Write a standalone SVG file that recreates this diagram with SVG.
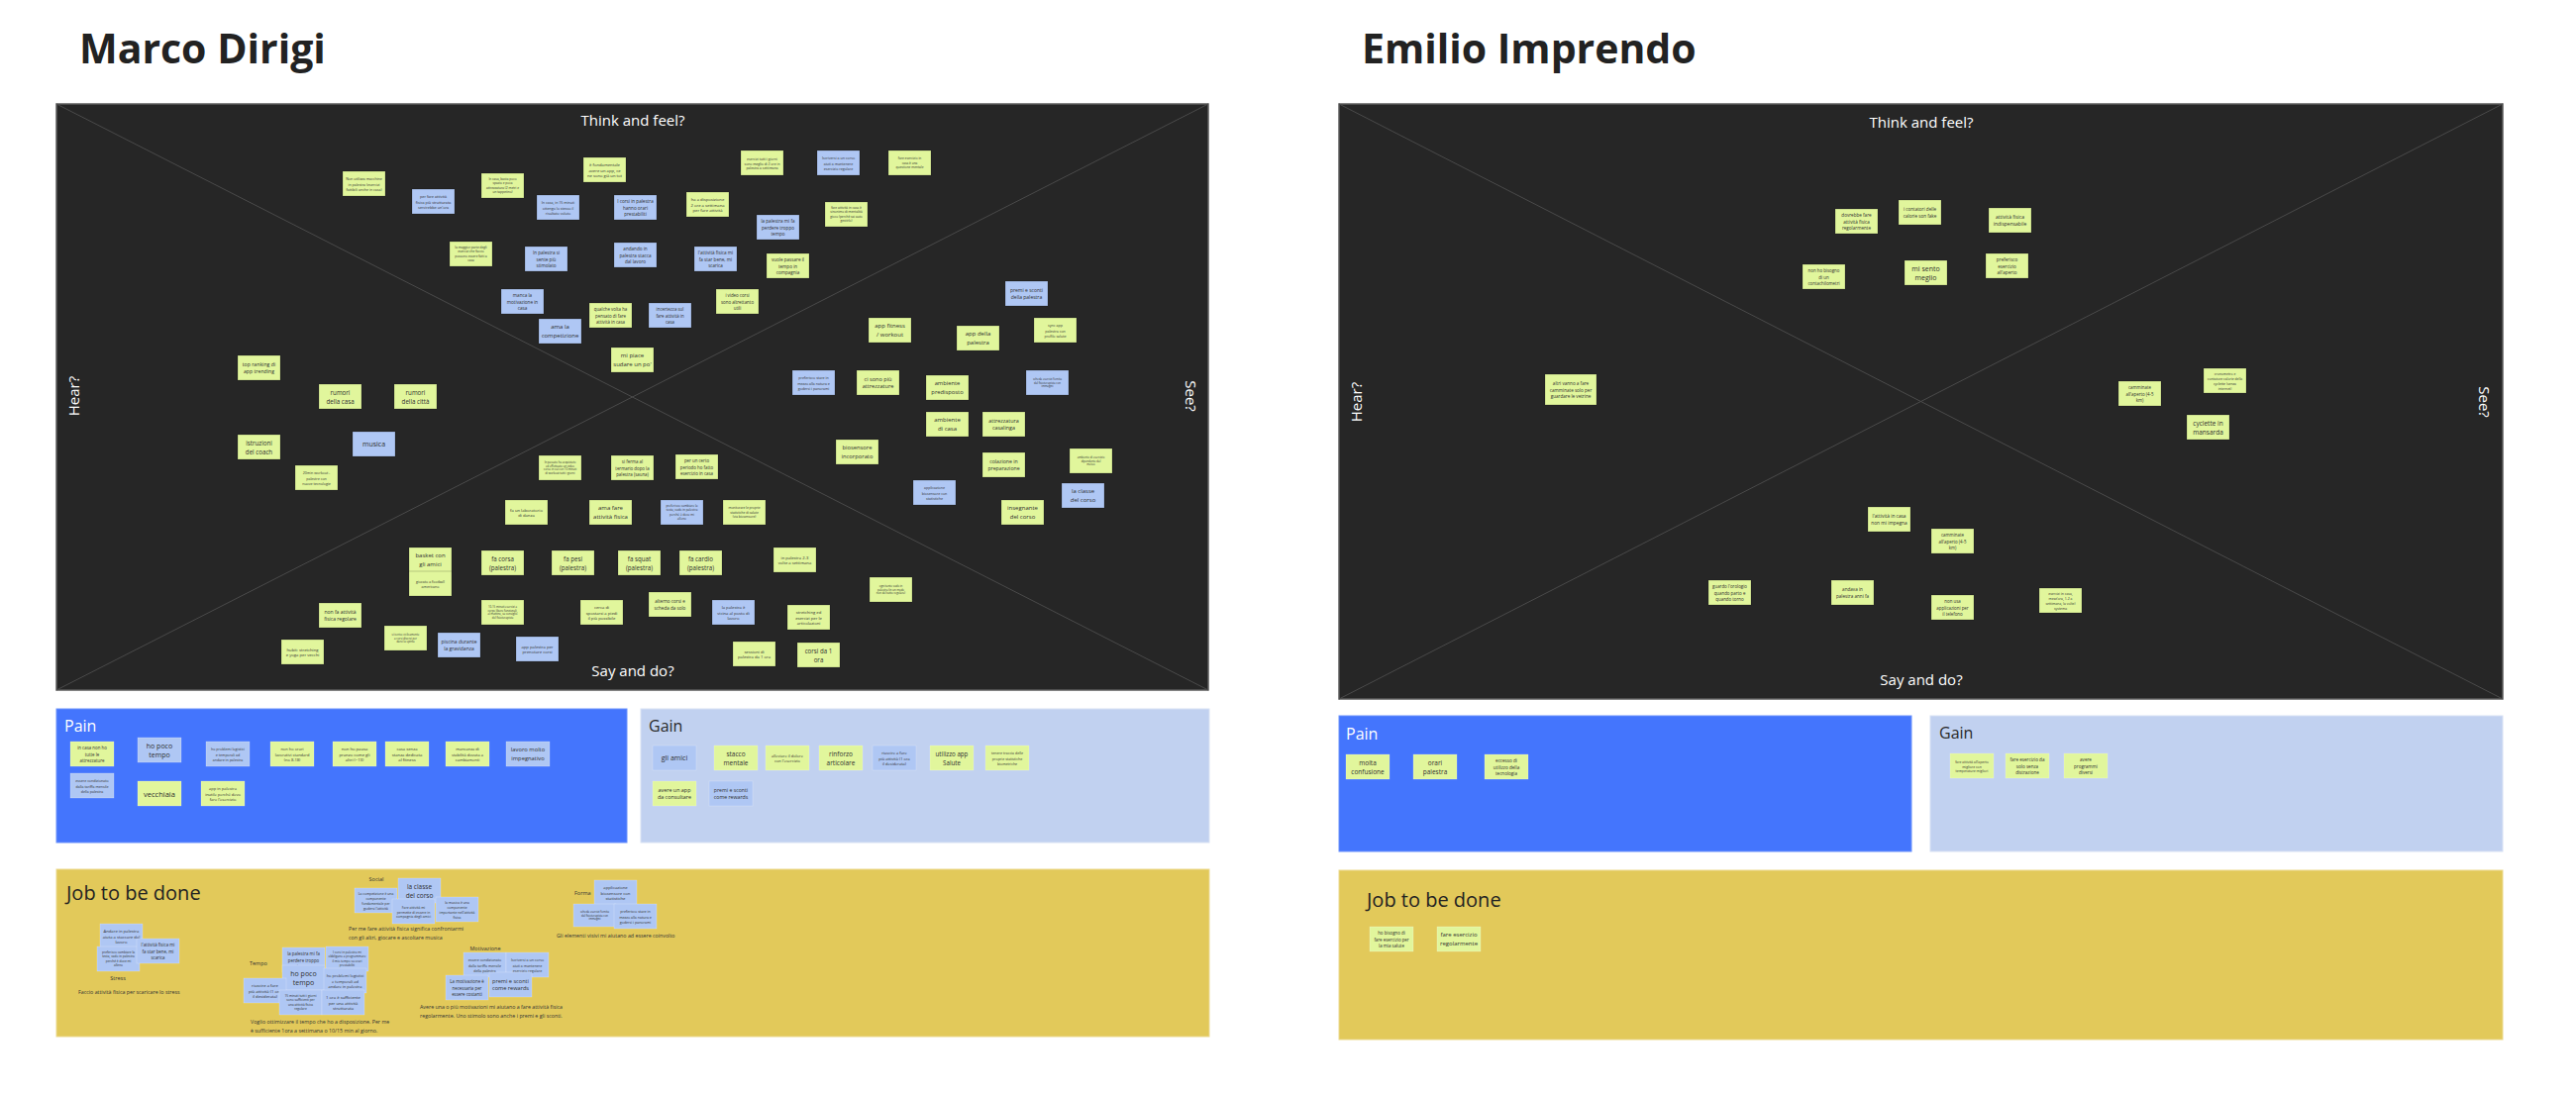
<svg xmlns="http://www.w3.org/2000/svg" width="2601" height="1106" viewBox="0 0 2601 1106">
<style>
text{font-family:"Open Sans","Noto Sans","Liberation Sans",sans-serif}
.st rect{stroke:#000;stroke-opacity:.3;stroke-width:.6}
.lt rect{stroke:#fff;stroke-opacity:.35;stroke-width:.6}
.g{fill:#e1f69c}
.b{fill:#afc7f4}
.st text,.lt text{fill:#2e2e2e;text-anchor:middle;dominant-baseline:central}
.st tspan,.lt tspan{dominant-baseline:central}
.map{fill:#262626;stroke:#5c5c5c;stroke-width:1.5}
.diag{stroke:#4a4a4a;stroke-width:1}
.lbl{fill:#fff;font-size:15px;text-anchor:middle;dominant-baseline:central}
.h1{font-size:41px;font-weight:700;fill:#222}
.sec{font-size:16px}
.job{font-size:20px;fill:#222}
.cap{font-size:5.5px;fill:#333}
.desc{font-size:5.3px;fill:#333}
.f26{font-size:2.6px}.f28{font-size:2.8px}.f31{font-size:3.1px}.f32{font-size:3.2px}.f34{font-size:3.4px}.f36{font-size:3.6px}.f38{font-size:3.8px}
.f40{font-size:4px}.f42{font-size:4.2px}.f44{font-size:4.4px}.f46{font-size:4.6px}.f48{font-size:4.8px}.f50{font-size:5px}.f52{font-size:5.2px}
.f54{font-size:5.4px}.f56{font-size:5.6px}.f58{font-size:5.8px}.f60{font-size:6px}.f62{font-size:6.2px}.f65{font-size:6.5px}.f68{font-size:6.8px}.f70{font-size:7px}.f75{font-size:7.5px}
</style>

<text class="h1" x="80" y="64">Marco Dirigi</text>
<text class="h1" x="1375" y="64">Emilio Imprendo</text>

<!-- LEFT EMPATHY MAP -->
<g id="map-left">
<rect class="map" x="57" y="105" width="1163" height="592"/>
<line class="diag" x1="57" y1="105" x2="1220" y2="697"/>
<line class="diag" x1="57" y1="697" x2="1220" y2="105"/>
<text class="lbl" x="639" y="121">Think and feel?</text>
<text class="lbl" x="639" y="677">Say and do?</text>
<text class="lbl" transform="translate(74,400) rotate(-90)">Hear?</text>
<text class="lbl" transform="translate(1203,400) rotate(90)">See?</text>
</g>

<g id="n1" class="st" transform="translate(346,173)"><rect class="g" width="43" height="25"/><text class="f36" x="21.5" y="12.5"><tspan x="21.5" dy="-1.4em">Non utilizza macchine</tspan><tspan x="21.5" dy="1.4em">in palestra (esercizi</tspan><tspan x="21.5" dy="1.4em">fattibili anche in casa)</tspan></text></g>
<g id="n2" class="st" transform="translate(416,191)"><rect class="b" width="43" height="25"/><text class="f38" x="21.5" y="12.5"><tspan x="21.5" dy="-1.4em">per fare attività</tspan><tspan x="21.5" dy="1.4em">fisica più strutturata</tspan><tspan x="21.5" dy="1.4em">servirebbe un'ora</tspan></text></g>
<g id="n3" class="st" transform="translate(454,244)"><rect class="g" width="43" height="25"/><text class="f32" x="21.5" y="12.5"><tspan x="21.5" dy="-2.1em">la maggior parte degli</tspan><tspan x="21.5" dy="1.4em">esercizi che faccio</tspan><tspan x="21.5" dy="1.4em">possono essere fatti a</tspan><tspan x="21.5" dy="1.4em">casa</tspan></text></g>
<g id="n4" class="st" transform="translate(486,175)"><rect class="g" width="43" height="25"/><text class="f32" x="21.5" y="12.5"><tspan x="21.5" dy="-2.1em">In casa, basta poco</tspan><tspan x="21.5" dy="1.4em">spazio e poca</tspan><tspan x="21.5" dy="1.4em">attrezzatura (2 metri e</tspan><tspan x="21.5" dy="1.4em">un tappetino)</tspan></text></g>
<g id="n5" class="st" transform="translate(589,159)"><rect class="g" width="43" height="25"/><text class="f42" x="21.5" y="12.5"><tspan x="21.5" dy="-1.4em">è fondamentale</tspan><tspan x="21.5" dy="1.4em">avere un app, ce</tspan><tspan x="21.5" dy="1.4em">ne sono già un tot</tspan></text></g>
<g id="n6" class="st" transform="translate(542,197)"><rect class="b" width="43" height="25"/><text class="f36" x="21.5" y="12.5"><tspan x="21.5" dy="-1.4em">In casa, in 15 minuti</tspan><tspan x="21.5" dy="1.4em">ottengo lo stesso il</tspan><tspan x="21.5" dy="1.4em">risultato voluto</tspan></text></g>
<g id="n7" class="st" transform="translate(620,197)"><rect class="b" width="43" height="25"/><text class="f46" x="21.5" y="12.5"><tspan x="21.5" dy="-1.4em">I corsi in palestra</tspan><tspan x="21.5" dy="1.4em">hanno orari</tspan><tspan x="21.5" dy="1.4em">prestabiliti</tspan></text></g>
<g id="n8" class="st" transform="translate(693,194)"><rect class="g" width="43" height="25"/><text class="f42" x="21.5" y="12.5"><tspan x="21.5" dy="-1.4em">ha a disposizione</tspan><tspan x="21.5" dy="1.4em">2 ore a settimana</tspan><tspan x="21.5" dy="1.4em">per fare attività</tspan></text></g>
<g id="n9" class="st" transform="translate(748,152)"><rect class="g" width="43" height="25"/><text class="f34" x="21.5" y="12.5"><tspan x="21.5" dy="-1.4em">esercizi tutti i giorni</tspan><tspan x="21.5" dy="1.4em">sono meglio di 2 ore in</tspan><tspan x="21.5" dy="1.4em">palestra a settimana</tspan></text></g>
<g id="n10" class="st" transform="translate(825,152)"><rect class="b" width="43" height="25"/><text class="f36" x="21.5" y="12.5"><tspan x="21.5" dy="-1.4em">Iscriversi a un corso</tspan><tspan x="21.5" dy="1.4em">aiuti a mantenere</tspan><tspan x="21.5" dy="1.4em">esercizio regolare</tspan></text></g>
<g id="n11" class="st" transform="translate(764,217)"><rect class="b" width="43" height="25"/><text class="f46" x="21.5" y="12.5"><tspan x="21.5" dy="-1.4em">la palestra mi fa</tspan><tspan x="21.5" dy="1.4em">perdere troppo</tspan><tspan x="21.5" dy="1.4em">tempo</tspan></text></g>
<g id="n12" class="st" transform="translate(833,204)"><rect class="g" width="43" height="25"/><text class="f32" x="21.5" y="12.5"><tspan x="21.5" dy="-2.1em">fare attività in casa è</tspan><tspan x="21.5" dy="1.4em">sinonimo di mentalità</tspan><tspan x="21.5" dy="1.4em">gioco (perché sai auto</tspan><tspan x="21.5" dy="1.4em">gestirlo)</tspan></text></g>
<g id="n13" class="st" transform="translate(530,249)"><rect class="b" width="43" height="25"/><text class="f46" x="21.5" y="12.5"><tspan x="21.5" dy="-1.4em">In palestra si</tspan><tspan x="21.5" dy="1.4em">sente più</tspan><tspan x="21.5" dy="1.4em">stimolato</tspan></text></g>
<g id="n14" class="st" transform="translate(620,245)"><rect class="b" width="43" height="25"/><text class="f46" x="21.5" y="12.5"><tspan x="21.5" dy="-1.4em">andando in</tspan><tspan x="21.5" dy="1.4em">palestra stacca</tspan><tspan x="21.5" dy="1.4em">dal lavoro</tspan></text></g>
<g id="n15" class="st" transform="translate(701,249)"><rect class="b" width="43" height="25"/><text class="f46" x="21.5" y="12.5"><tspan x="21.5" dy="-1.4em">l'attività fisica mi</tspan><tspan x="21.5" dy="1.4em">fa star bene, mi</tspan><tspan x="21.5" dy="1.4em">scarica</tspan></text></g>
<g id="n16" class="st" transform="translate(774,256)"><rect class="g" width="43" height="25"/><text class="f46" x="21.5" y="12.5"><tspan x="21.5" dy="-1.4em">vuole passare il</tspan><tspan x="21.5" dy="1.4em">tempo in</tspan><tspan x="21.5" dy="1.4em">compagnia</tspan></text></g>
<g id="n17" class="st" transform="translate(506,292)"><rect class="b" width="43" height="25"/><text class="f46" x="21.5" y="12.5"><tspan x="21.5" dy="-1.4em">manca la</tspan><tspan x="21.5" dy="1.4em">motivazione in</tspan><tspan x="21.5" dy="1.4em">casa</tspan></text></g>
<g id="n18" class="st" transform="translate(595,306)"><rect class="g" width="43" height="25"/><text class="f44" x="21.5" y="12.5"><tspan x="21.5" dy="-1.4em">qualche volta ha</tspan><tspan x="21.5" dy="1.4em">pensato di fare</tspan><tspan x="21.5" dy="1.4em">attività in casa</tspan></text></g>
<g id="n19" class="st" transform="translate(655,306)"><rect class="b" width="43" height="25"/><text class="f44" x="21.5" y="12.5"><tspan x="21.5" dy="-1.4em">incertezza sul</tspan><tspan x="21.5" dy="1.4em">fare attività in</tspan><tspan x="21.5" dy="1.4em">casa</tspan></text></g>
<g id="n20" class="st" transform="translate(723,292)"><rect class="g" width="43" height="25"/><text class="f44" x="21.5" y="12.5"><tspan x="21.5" dy="-1.4em">i video corsi</tspan><tspan x="21.5" dy="1.4em">sono altrettanto</tspan><tspan x="21.5" dy="1.4em">utili</tspan></text></g>
<g id="n21" class="st" transform="translate(544,322)"><rect class="b" width="43" height="25"/><text class="f60" x="21.5" y="12.5"><tspan x="21.5" dy="-0.7em">ama la</tspan><tspan x="21.5" dy="1.4em">competizione</tspan></text></g>
<g id="n22" class="st" transform="translate(617,351)"><rect class="g" width="43" height="25"/><text class="f60" x="21.5" y="12.5"><tspan x="21.5" dy="-0.7em">mi piace</tspan><tspan x="21.5" dy="1.4em">sudare un po'</tspan></text></g>
<g id="n23" class="st" transform="translate(800,374)"><rect class="b" width="43" height="25"/><text class="f36" x="21.5" y="12.5"><tspan x="21.5" dy="-1.4em">preferisco stare in</tspan><tspan x="21.5" dy="1.4em">mezzo alla natura e</tspan><tspan x="21.5" dy="1.4em">godersi i panorami</tspan></text></g>
<g id="n24" class="st" transform="translate(897,152)"><rect class="g" width="43" height="25"/><text class="f32" x="21.5" y="12.5"><tspan x="21.5" dy="-1.4em">fare esercizio in</tspan><tspan x="21.5" dy="1.4em">casa è una</tspan><tspan x="21.5" dy="1.4em">questione mentale</tspan></text></g>
<g id="n25" class="st" transform="translate(1015,284)"><rect class="b" width="43" height="25"/><text class="f50" x="21.5" y="12.5"><tspan x="21.5" dy="-0.7em">premi e sconti</tspan><tspan x="21.5" dy="1.4em">della palestra</tspan></text></g>
<g id="n26" class="st" transform="translate(877,321)"><rect class="g" width="43" height="25"/><text class="f60" x="21.5" y="12.5"><tspan x="21.5" dy="-0.7em">app fitness</tspan><tspan x="21.5" dy="1.4em">/ workout</tspan></text></g>
<g id="n27" class="st" transform="translate(966,329)"><rect class="g" width="43" height="25"/><text class="f60" x="21.5" y="12.5"><tspan x="21.5" dy="-0.7em">app della</tspan><tspan x="21.5" dy="1.4em">palestra</tspan></text></g>
<g id="n28" class="st" transform="translate(1044,321)"><rect class="g" width="43" height="25"/><text class="f36" x="21.5" y="12.5"><tspan x="21.5" dy="-1.4em">sync app</tspan><tspan x="21.5" dy="1.4em">palestra con</tspan><tspan x="21.5" dy="1.4em">profilo salute</tspan></text></g>
<g id="n29" class="st" transform="translate(865,374)"><rect class="g" width="43" height="25"/><text class="f56" x="21.5" y="12.5"><tspan x="21.5" dy="-0.7em">ci sono più</tspan><tspan x="21.5" dy="1.4em">attrezzature</tspan></text></g>
<g id="n30" class="st" transform="translate(935,379)"><rect class="g" width="43" height="25"/><text class="f58" x="21.5" y="12.5"><tspan x="21.5" dy="-0.7em">ambiente</tspan><tspan x="21.5" dy="1.4em">predisposto</tspan></text></g>
<g id="n31" class="st" transform="translate(1036,374)"><rect class="b" width="43" height="25"/><text class="f28" x="21.5" y="12.5"><tspan x="21.5" dy="-1.4em">scheda esercizi fornita</tspan><tspan x="21.5" dy="1.4em">dal fisioterapista con</tspan><tspan x="21.5" dy="1.4em">immagini</tspan></text></g>
<g id="n32" class="st" transform="translate(240,359)"><rect class="g" width="43" height="25"/><text class="f52" x="21.5" y="12.5"><tspan x="21.5" dy="-0.7em">top ranking di</tspan><tspan x="21.5" dy="1.4em">app trending</tspan></text></g>
<g id="n33" class="st" transform="translate(322,388)"><rect class="g" width="43" height="25"/><text class="f62" x="21.5" y="12.5"><tspan x="21.5" dy="-0.7em">rumori</tspan><tspan x="21.5" dy="1.4em">della casa</tspan></text></g>
<g id="n34" class="st" transform="translate(398,388)"><rect class="g" width="43" height="25"/><text class="f62" x="21.5" y="12.5"><tspan x="21.5" dy="-0.7em">rumori</tspan><tspan x="21.5" dy="1.4em">della città</tspan></text></g>
<g id="n35" class="st" transform="translate(240,439)"><rect class="g" width="43" height="25"/><text class="f62" x="21.5" y="12.5"><tspan x="21.5" dy="-0.7em">istruzioni</tspan><tspan x="21.5" dy="1.4em">del coach</tspan></text></g>
<g id="n36" class="st" transform="translate(356,436)"><rect class="b" width="43" height="25"/><text class="f70" x="21.5" y="12.5">musica</text></g>
<g id="n37" class="st" transform="translate(298,470)"><rect class="g" width="43" height="25"/><text class="f36" x="21.5" y="12.5"><tspan x="21.5" dy="-1.4em">20min workout -</tspan><tspan x="21.5" dy="1.4em">palestre con</tspan><tspan x="21.5" dy="1.4em">nuove tecnologie</tspan></text></g>
<g id="n38" class="st" transform="translate(844,444)"><rect class="g" width="43" height="25"/><text class="f58" x="21.5" y="12.5"><tspan x="21.5" dy="-0.7em">biosensore</tspan><tspan x="21.5" dy="1.4em">incorporato</tspan></text></g>
<g id="n39" class="st" transform="translate(935,416)"><rect class="g" width="43" height="25"/><text class="f60" x="21.5" y="12.5"><tspan x="21.5" dy="-0.7em">ambiente</tspan><tspan x="21.5" dy="1.4em">di casa</tspan></text></g>
<g id="n40" class="st" transform="translate(992,416)"><rect class="g" width="43" height="25"/><text class="f54" x="21.5" y="12.5"><tspan x="21.5" dy="-0.7em">attrezzatura</tspan><tspan x="21.5" dy="1.4em">casalinga</tspan></text></g>
<g id="n41" class="st" transform="translate(992,457)"><rect class="g" width="43" height="25"/><text class="f52" x="21.5" y="12.5"><tspan x="21.5" dy="-0.7em">colazione in</tspan><tspan x="21.5" dy="1.4em">preparazione</tspan></text></g>
<g id="n42" class="st" transform="translate(1080,453)"><rect class="g" width="43" height="25"/><text class="f28" x="21.5" y="12.5"><tspan x="21.5" dy="-1.4em">ambiente di esercizio</tspan><tspan x="21.5" dy="1.4em">dipendente dal</tspan><tspan x="21.5" dy="1.4em">meteo</tspan></text></g>
<g id="n43" class="st" transform="translate(922,485)"><rect class="b" width="43" height="25"/><text class="f36" x="21.5" y="12.5"><tspan x="21.5" dy="-1.4em">applicazione</tspan><tspan x="21.5" dy="1.4em">biosensore con</tspan><tspan x="21.5" dy="1.4em">statistiche</tspan></text></g>
<g id="n44" class="st" transform="translate(1072,488)"><rect class="b" width="43" height="25"/><text class="f60" x="21.5" y="12.5"><tspan x="21.5" dy="-0.7em">la classe</tspan><tspan x="21.5" dy="1.4em">del corso</tspan></text></g>
<g id="n45" class="st" transform="translate(1011,505)"><rect class="g" width="43" height="25"/><text class="f60" x="21.5" y="12.5"><tspan x="21.5" dy="-0.7em">insegnante</tspan><tspan x="21.5" dy="1.4em">del corso</tspan></text></g>
<g id="n46" class="st" transform="translate(878,583)"><rect class="g" width="43" height="25"/><text class="f28" x="21.5" y="12.5"><tspan x="21.5" dy="-1.4em">ogni tanto vado in</tspan><tspan x="21.5" dy="1.4em">palestra (in un modo</tspan><tspan x="21.5" dy="1.4em">non del tutto regolare)</tspan></text></g>
<g id="n47" class="st" transform="translate(544,460)"><rect class="g" width="43" height="25"/><text class="f28" x="21.5" y="12.5"><tspan x="21.5" dy="-2.1em">In passato ha acquistato</tspan><tspan x="21.5" dy="1.4em">ed effettuato un video</tspan><tspan x="21.5" dy="1.4em">corso in cui con 10 minuti</tspan><tspan x="21.5" dy="1.4em">di workout tutti i giorni</tspan></text></g>
<g id="n48" class="st" transform="translate(617,460)"><rect class="g" width="43" height="25"/><text class="f44" x="21.5" y="12.5"><tspan x="21.5" dy="-1.4em">si ferma al</tspan><tspan x="21.5" dy="1.4em">termario dopo la</tspan><tspan x="21.5" dy="1.4em">palestra (sauna)</tspan></text></g>
<g id="n49" class="st" transform="translate(682,459)"><rect class="g" width="43" height="25"/><text class="f44" x="21.5" y="12.5"><tspan x="21.5" dy="-1.4em">per un certo</tspan><tspan x="21.5" dy="1.4em">periodo ho fatto</tspan><tspan x="21.5" dy="1.4em">esercizio in casa</tspan></text></g>
<g id="n50" class="st" transform="translate(510,505)"><rect class="g" width="43" height="25"/><text class="f42" x="21.5" y="12.5"><tspan x="21.5" dy="-0.7em">fa un laboratorio</tspan><tspan x="21.5" dy="1.4em">di danza</tspan></text></g>
<g id="n51" class="st" transform="translate(595,505)"><rect class="g" width="43" height="25"/><text class="f60" x="21.5" y="12.5"><tspan x="21.5" dy="-0.7em">ama fare</tspan><tspan x="21.5" dy="1.4em">attività fisica</tspan></text></g>
<g id="n52" class="st" transform="translate(667,505)"><rect class="b" width="43" height="25"/><text class="f31" x="21.5" y="12.5"><tspan x="21.5" dy="-2.1em">preferisco cambiare la</tspan><tspan x="21.5" dy="1.4em">testa, vado in palestra</tspan><tspan x="21.5" dy="1.4em">perché è dove mi</tspan><tspan x="21.5" dy="1.4em">alleno</tspan></text></g>
<g id="n53" class="st" transform="translate(730,505)"><rect class="g" width="43" height="25"/><text class="f32" x="21.5" y="12.5"><tspan x="21.5" dy="-1.4em">monitorare le proprie</tspan><tspan x="21.5" dy="1.4em">statistiche di salute</tspan><tspan x="21.5" dy="1.4em">(via biosensore)</tspan></text></g>
<g id="n54" class="st" transform="translate(486,556)"><rect class="g" width="43" height="25"/><text class="f62" x="21.5" y="12.5"><tspan x="21.5" dy="-0.7em">fa corsa</tspan><tspan x="21.5" dy="1.4em">(palestra)</tspan></text></g>
<g id="n55" class="st" transform="translate(557,556)"><rect class="g" width="43" height="25"/><text class="f62" x="21.5" y="12.5"><tspan x="21.5" dy="-0.7em">fa pesi</tspan><tspan x="21.5" dy="1.4em">(palestra)</tspan></text></g>
<g id="n56" class="st" transform="translate(624,556)"><rect class="g" width="43" height="25"/><text class="f62" x="21.5" y="12.5"><tspan x="21.5" dy="-0.7em">fa squat</tspan><tspan x="21.5" dy="1.4em">(palestra)</tspan></text></g>
<g id="n57" class="st" transform="translate(686,556)"><rect class="g" width="43" height="25"/><text class="f62" x="21.5" y="12.5"><tspan x="21.5" dy="-0.7em">fa cardio</tspan><tspan x="21.5" dy="1.4em">(palestra)</tspan></text></g>
<g id="n58" class="st" transform="translate(781,553)"><rect class="g" width="43" height="25"/><text class="f42" x="21.5" y="12.5"><tspan x="21.5" dy="-0.7em">in palestra 2-3</tspan><tspan x="21.5" dy="1.4em">volte a settimana</tspan></text></g>
<g id="n59" class="st" transform="translate(486,606)"><rect class="g" width="43" height="25"/><text class="f28" x="21.5" y="12.5"><tspan x="21.5" dy="-2.1em">10-15 minuti esercizi a</tspan><tspan x="21.5" dy="1.4em">corpo libero funzionali,</tspan><tspan x="21.5" dy="1.4em">al mattino, su consiglio</tspan><tspan x="21.5" dy="1.4em">del fisioterapista</tspan></text></g>
<g id="n60" class="st" transform="translate(586,606)"><rect class="g" width="43" height="25"/><text class="f42" x="21.5" y="12.5"><tspan x="21.5" dy="-1.4em">cerca di</tspan><tspan x="21.5" dy="1.4em">spostarsi a piedi</tspan><tspan x="21.5" dy="1.4em">il più possibile</tspan></text></g>
<g id="n61" class="st" transform="translate(655,598)"><rect class="g" width="43" height="25"/><text class="f46" x="21.5" y="12.5"><tspan x="21.5" dy="-0.7em">alterno corsi e</tspan><tspan x="21.5" dy="1.4em">scheda da solo</tspan></text></g>
<g id="n62" class="st" transform="translate(719,606)"><rect class="b" width="43" height="25"/><text class="f42" x="21.5" y="12.5"><tspan x="21.5" dy="-1.4em">la palestra è</tspan><tspan x="21.5" dy="1.4em">vicina al posto di</tspan><tspan x="21.5" dy="1.4em">lavoro</tspan></text></g>
<g id="n63" class="st" transform="translate(795,611)"><rect class="g" width="43" height="25"/><text class="f42" x="21.5" y="12.5"><tspan x="21.5" dy="-1.4em">stretching ed</tspan><tspan x="21.5" dy="1.4em">esercizi per le</tspan><tspan x="21.5" dy="1.4em">articolazioni</tspan></text></g>
<g id="n64" class="st" transform="translate(521,643)"><rect class="b" width="43" height="25"/><text class="f42" x="21.5" y="12.5"><tspan x="21.5" dy="-0.7em">app palestra per</tspan><tspan x="21.5" dy="1.4em">prenotare corsi</tspan></text></g>
<g id="n65" class="st" transform="translate(740,648)"><rect class="g" width="43" height="25"/><text class="f42" x="21.5" y="12.5"><tspan x="21.5" dy="-0.7em">sessioni di</tspan><tspan x="21.5" dy="1.4em">palestra da 1 ora</tspan></text></g>
<g id="n66" class="st" transform="translate(805,649)"><rect class="g" width="43" height="25"/><text class="f62" x="21.5" y="12.5"><tspan x="21.5" dy="-0.7em">corsi da 1</tspan><tspan x="21.5" dy="1.4em">ora</tspan></text></g>
<g id="n67" class="st" transform="translate(413,553)"><rect class="g" width="43" height="25"/><text class="f60" x="21.5" y="12.5"><tspan x="21.5" dy="-0.7em">basket con</tspan><tspan x="21.5" dy="1.4em">gli amici</tspan></text></g>
<g id="n68" class="st" transform="translate(413,577)"><rect class="g" width="43" height="25"/><text class="f36" x="21.5" y="12.5"><tspan x="21.5" dy="-0.7em">giocato a football</tspan><tspan x="21.5" dy="1.4em">americano</tspan></text></g>
<g id="n69" class="st" transform="translate(322,609)"><rect class="g" width="43" height="25"/><text class="f50" x="21.5" y="12.5"><tspan x="21.5" dy="-0.7em">non fa attività</tspan><tspan x="21.5" dy="1.4em">fisica regolare</tspan></text></g>
<g id="n70" class="st" transform="translate(388,632)"><rect class="g" width="43" height="25"/><text class="f28" x="21.5" y="12.5"><tspan x="21.5" dy="-1.4em">si iscrive ciclicamente</tspan><tspan x="21.5" dy="1.4em">a corsi diversi per</tspan><tspan x="21.5" dy="1.4em">darsi la spinta</tspan></text></g>
<g id="n71" class="st" transform="translate(284,646)"><rect class="g" width="43" height="25"/><text class="f42" x="21.5" y="12.5"><tspan x="21.5" dy="-0.7em">hubit: stretching</tspan><tspan x="21.5" dy="1.4em">e yoga per vecchi</tspan></text></g>
<g id="n72" class="st" transform="translate(442,639)"><rect class="b" width="43" height="25"/><text class="f50" x="21.5" y="12.5"><tspan x="21.5" dy="-0.7em">piscina durante</tspan><tspan x="21.5" dy="1.4em">la gravidanza</tspan></text></g>

<!-- LEFT PAIN -->
<g id="pain-left">
<rect x="57" y="716" width="576" height="135" fill="#4475fd" stroke="#6a92fc" stroke-width="1"/>
<text class="sec" x="65" y="739" fill="#fff">Pain</text>
</g>
<g id="p1" class="lt" transform="translate(71,749)"><rect class="g" width="44" height="25"/><text class="f44" x="22" y="12.5"><tspan x="22" dy="-1.4em">in casa non ho</tspan><tspan x="22" dy="1.4em">tutte le</tspan><tspan x="22" dy="1.4em">attrezzature</tspan></text></g>
<g id="p2" class="lt" transform="translate(139,745)"><rect class="b" width="44" height="25"/><text class="f70" x="22" y="12.5"><tspan x="22" dy="-0.7em">ho poco</tspan><tspan x="22" dy="1.4em">tempo</tspan></text></g>
<g id="p3" class="lt" transform="translate(208,749)"><rect class="b" width="44" height="25"/><text class="f36" x="22" y="12.5"><tspan x="22" dy="-1.4em">ho problemi logistici</tspan><tspan x="22" dy="1.4em">e temporali ad</tspan><tspan x="22" dy="1.4em">andare in palestra</tspan></text></g>
<g id="p4" class="lt" transform="translate(273,749)"><rect class="g" width="44" height="25"/><text class="f40" x="22" y="12.5"><tspan x="22" dy="-1.4em">non ho orari</tspan><tspan x="22" dy="1.4em">lavorativi standard</tspan><tspan x="22" dy="1.4em">(no 8-18)</tspan></text></g>
<g id="p5" class="lt" transform="translate(336,749)"><rect class="g" width="44" height="25"/><text class="f42" x="22" y="12.5"><tspan x="22" dy="-1.4em">non ho pausa</tspan><tspan x="22" dy="1.4em">pranzo come gli</tspan><tspan x="22" dy="1.4em">altri (~13)</tspan></text></g>
<g id="p6" class="lt" transform="translate(389,749)"><rect class="g" width="44" height="25"/><text class="f42" x="22" y="12.5"><tspan x="22" dy="-1.4em">casa senza</tspan><tspan x="22" dy="1.4em">stanza dedicata</tspan><tspan x="22" dy="1.4em">al fitness</tspan></text></g>
<g id="p7" class="lt" transform="translate(450,749)"><rect class="g" width="44" height="25"/><text class="f40" x="22" y="12.5"><tspan x="22" dy="-1.4em">mancanza di</tspan><tspan x="22" dy="1.4em">stabilità dovuta a</tspan><tspan x="22" dy="1.4em">cambiamenti</tspan></text></g>
<g id="p8" class="lt" transform="translate(511,749)"><rect class="b" width="44" height="25"/><text class="f58" x="22" y="12.5"><tspan x="22" dy="-0.7em">lavoro molto</tspan><tspan x="22" dy="1.4em">impegnativo</tspan></text></g>
<g id="p9" class="lt" transform="translate(71,781)"><rect class="b" width="44" height="25"/><text class="f36" x="22" y="12.5"><tspan x="22" dy="-1.4em">essere condizionato</tspan><tspan x="22" dy="1.4em">dalla tariffa mensile</tspan><tspan x="22" dy="1.4em">della palestra</tspan></text></g>
<g id="p10" class="lt" transform="translate(139,789)"><rect class="g" width="44" height="25"/><text class="f75" x="22" y="12.5">vecchiaia</text></g>
<g id="p11" class="lt" transform="translate(203,789)"><rect class="g" width="44" height="25"/><text class="f40" x="22" y="12.5"><tspan x="22" dy="-1.4em">app in palestra</tspan><tspan x="22" dy="1.4em">inutile perché devo</tspan><tspan x="22" dy="1.4em">fare l'esercizio</tspan></text></g>

<!-- LEFT GAIN -->
<g id="gain-left">
<rect x="647" y="716" width="574" height="135" fill="#c1d1f0" stroke="#d8e1f4" stroke-width="1"/>
<text class="sec" x="655" y="739" fill="#2a2a2a">Gain</text>
</g>
<g id="g1" class="lt" transform="translate(659,753)"><rect class="b" width="44" height="25"/><text class="f70" x="22" y="12.5">gli amici</text></g>
<g id="g2" class="lt" transform="translate(721,753)"><rect class="g" width="44" height="25"/><text class="f65" x="22" y="12.5"><tspan x="22" dy="-0.7em">stacco</tspan><tspan x="22" dy="1.4em">mentale</tspan></text></g>
<g id="g3" class="lt" transform="translate(773,753)"><rect class="g" width="44" height="25"/><text class="f40" x="22" y="12.5"><tspan x="22" dy="-0.7em">alleviare il dolore</tspan><tspan x="22" dy="1.4em">con l'esercizio</tspan></text></g>
<g id="g4" class="lt" transform="translate(827,753)"><rect class="g" width="44" height="25"/><text class="f65" x="22" y="12.5"><tspan x="22" dy="-0.7em">rinforzo</tspan><tspan x="22" dy="1.4em">articolare</tspan></text></g>
<g id="g5" class="lt" transform="translate(881,753)"><rect class="b" width="44" height="25"/><text class="f40" x="22" y="12.5"><tspan x="22" dy="-1.4em">riuscire a fare</tspan><tspan x="22" dy="1.4em">più attività (1 ora</tspan><tspan x="22" dy="1.4em">il desiderata)</tspan></text></g>
<g id="g6" class="lt" transform="translate(939,753)"><rect class="g" width="44" height="25"/><text class="f62" x="22" y="12.5"><tspan x="22" dy="-0.7em">utilizzo app</tspan><tspan x="22" dy="1.4em">Salute</tspan></text></g>
<g id="g7" class="lt" transform="translate(995,753)"><rect class="g" width="44" height="25"/><text class="f36" x="22" y="12.5"><tspan x="22" dy="-1.4em">tenere traccia delle</tspan><tspan x="22" dy="1.4em">proprie statistiche</tspan><tspan x="22" dy="1.4em">biometriche</tspan></text></g>
<g id="g8" class="lt" transform="translate(659,789)"><rect class="g" width="44" height="25"/><text class="f54" x="22" y="12.5"><tspan x="22" dy="-0.7em">avere un app</tspan><tspan x="22" dy="1.4em">da consultare</tspan></text></g>
<g id="g9" class="lt" transform="translate(716,789)"><rect class="b" width="44" height="25"/><text class="f52" x="22" y="12.5"><tspan x="22" dy="-0.7em">premi e sconti</tspan><tspan x="22" dy="1.4em">come rewards</tspan></text></g>

<!-- LEFT JOB -->
<g id="job-left">
<rect x="57" y="878" width="1164" height="169" fill="#e2c95a" stroke="#ecd98e" stroke-width="1"/>
<text class="job" x="67" y="909">Job to be done</text>
<text class="cap" x="119" y="990" text-anchor="middle">Stress</text>
<text class="desc" x="79" y="1004">Faccio attività fisica per scaricare lo stress</text>
<text class="cap" x="380" y="890" text-anchor="middle">Social</text>
<text class="desc" x="352" y="940">Per me fare attività fisica significa confrontarmi</text>
<text class="desc" x="352" y="948.5">con gli altri, giocare e ascoltare musica</text>
<text class="cap" x="252" y="975">Tempo</text>
<text class="desc" x="253" y="1034">Voglio ottimizzare il tempo che ho a disposizione. Per me</text>
<text class="desc" x="253" y="1042.5">è sufficiente 1ora a settimana o 10/15 min al giorno.</text>
<text class="cap" x="490" y="960" text-anchor="middle">Motivazione</text>
<text class="desc" x="424" y="1019">Avere una o più motivazioni mi aiutano a fare attività fisica</text>
<text class="desc" x="424" y="1027.5">regolarmente. Uno stimolo sono anche i premi e gli sconti.</text>
<text class="cap" x="580" y="904">Forma</text>
<text class="desc" x="562" y="947">Gli elementi visivi mi aiutano ad essere coinvolto</text>
</g>
<g id="j1" class="lt" transform="translate(101,933)"><rect class="b" width="43" height="25"/><text class="f42" x="21.5" y="12.5"><tspan x="21.5" dy="-1.4em">Andare in palestra</tspan><tspan x="21.5" dy="1.4em">aiuta a staccare dal</tspan><tspan x="21.5" dy="1.4em">lavoro</tspan></text></g>
<g id="j3" class="lt" transform="translate(98,956)"><rect class="b" width="43" height="25"/><text class="f32" x="21.5" y="12.5"><tspan x="21.5" dy="-2.1em">preferisco cambiare la</tspan><tspan x="21.5" dy="1.4em">testa, vado in palestra</tspan><tspan x="21.5" dy="1.4em">perché è dove mi</tspan><tspan x="21.5" dy="1.4em">alleno</tspan></text></g>
<g id="j2" class="lt" transform="translate(138,948)"><rect class="b" width="43" height="25"/><text class="f44" x="21.5" y="12.5"><tspan x="21.5" dy="-1.4em">l'attività fisica mi</tspan><tspan x="21.5" dy="1.4em">fa star bene, mi</tspan><tspan x="21.5" dy="1.4em">scarica</tspan></text></g>
<g id="j4" class="lt" transform="translate(358,897)"><rect class="b" width="43" height="25"/><text class="f34" x="21.5" y="12.5"><tspan x="21.5" dy="-2.1em">La competizione è una</tspan><tspan x="21.5" dy="1.4em">componente</tspan><tspan x="21.5" dy="1.4em">fondamentale per</tspan><tspan x="21.5" dy="1.4em">godersi l'attività</tspan></text></g>
<g id="j5" class="lt" transform="translate(402,887)"><rect class="b" width="43" height="25"/><text class="f65" x="21.5" y="12.5"><tspan x="21.5" dy="-0.7em">la classe</tspan><tspan x="21.5" dy="1.4em">del corso</tspan></text></g>
<g id="j6" class="lt" transform="translate(396,908)"><rect class="b" width="43" height="25"/><text class="f34" x="21.5" y="12.5"><tspan x="21.5" dy="-1.4em">Fare attività mi</tspan><tspan x="21.5" dy="1.4em">permette di essere in</tspan><tspan x="21.5" dy="1.4em">compagnia degli amici</tspan></text></g>
<g id="j7" class="lt" transform="translate(440,906)"><rect class="b" width="43" height="25"/><text class="f34" x="21.5" y="12.5"><tspan x="21.5" dy="-2.1em">la musica è una</tspan><tspan x="21.5" dy="1.4em">componente</tspan><tspan x="21.5" dy="1.4em">importante nell'attività</tspan><tspan x="21.5" dy="1.4em">fisica</tspan></text></g>
<g id="j8" class="lt" transform="translate(285,957)"><rect class="b" width="43" height="25"/><text class="f44" x="21.5" y="12.5"><tspan x="21.5" dy="-1.4em">la palestra mi fa</tspan><tspan x="21.5" dy="1.4em">perdere troppo</tspan><tspan x="21.5" dy="1.4em">tempo</tspan></text></g>
<g id="j9" class="lt" transform="translate(329,956)"><rect class="b" width="43" height="25"/><text class="f31" x="21.5" y="12.5"><tspan x="21.5" dy="-2.1em">I corsi in palestra mi</tspan><tspan x="21.5" dy="1.4em">obbligano a programmare</tspan><tspan x="21.5" dy="1.4em">il mio tempo su orari</tspan><tspan x="21.5" dy="1.4em">prestabiliti</tspan></text></g>
<g id="j10" class="lt" transform="translate(285,975)"><rect class="b" width="43" height="25"/><text class="f70" x="21.5" y="12.5"><tspan x="21.5" dy="-0.7em">ho poco</tspan><tspan x="21.5" dy="1.4em">tempo</tspan></text></g>
<g id="j11" class="lt" transform="translate(327,978)"><rect class="b" width="43" height="25"/><text class="f40" x="21.5" y="12.5"><tspan x="21.5" dy="-1.4em">ho problemi logistici</tspan><tspan x="21.5" dy="1.4em">e temporali ad</tspan><tspan x="21.5" dy="1.4em">andare in palestra</tspan></text></g>
<g id="j12" class="lt" transform="translate(246,988)"><rect class="b" width="43" height="25"/><text class="f42" x="21.5" y="12.5"><tspan x="21.5" dy="-1.4em">riuscire a fare</tspan><tspan x="21.5" dy="1.4em">più attività (1 ora</tspan><tspan x="21.5" dy="1.4em">il desiderata)</tspan></text></g>
<g id="j13" class="lt" transform="translate(282,1000)"><rect class="b" width="43" height="25"/><text class="f32" x="21.5" y="12.5"><tspan x="21.5" dy="-2.1em">15 minuti tutti i giorni</tspan><tspan x="21.5" dy="1.4em">sono sufficienti per</tspan><tspan x="21.5" dy="1.4em">una attività fisica</tspan><tspan x="21.5" dy="1.4em">regolare</tspan></text></g>
<g id="j14" class="lt" transform="translate(325,1000)"><rect class="b" width="43" height="25"/><text class="f42" x="21.5" y="12.5"><tspan x="21.5" dy="-1.4em">1 ora è sufficiente</tspan><tspan x="21.5" dy="1.4em">per una attività</tspan><tspan x="21.5" dy="1.4em">strutturata</tspan></text></g>
<g id="j15" class="lt" transform="translate(468,962)"><rect class="b" width="43" height="25"/><text class="f36" x="21.5" y="12.5"><tspan x="21.5" dy="-1.4em">essere condizionato</tspan><tspan x="21.5" dy="1.4em">dalla tariffa mensile</tspan><tspan x="21.5" dy="1.4em">della palestra</tspan></text></g>
<g id="j16" class="lt" transform="translate(511,962)"><rect class="b" width="43" height="25"/><text class="f36" x="21.5" y="12.5"><tspan x="21.5" dy="-1.4em">Iscriversi a un corso</tspan><tspan x="21.5" dy="1.4em">aiuti a mantenere</tspan><tspan x="21.5" dy="1.4em">esercizio regolare</tspan></text></g>
<g id="j17" class="lt" transform="translate(450,985)"><rect class="b" width="43" height="25"/><text class="f44" x="21.5" y="12.5"><tspan x="21.5" dy="-1.4em">La motivazione è</tspan><tspan x="21.5" dy="1.4em">necessaria per</tspan><tspan x="21.5" dy="1.4em">essere costanti</tspan></text></g>
<g id="j18" class="lt" transform="translate(494,982)"><rect class="b" width="43" height="25"/><text class="f56" x="21.5" y="12.5"><tspan x="21.5" dy="-0.7em">premi e sconti</tspan><tspan x="21.5" dy="1.4em">come rewards</tspan></text></g>
<g id="j19" class="lt" transform="translate(600,889)"><rect class="b" width="43" height="25"/><text class="f42" x="21.5" y="12.5"><tspan x="21.5" dy="-1.4em">applicazione</tspan><tspan x="21.5" dy="1.4em">biosensore con</tspan><tspan x="21.5" dy="1.4em">statistiche</tspan></text></g>
<g id="j20" class="lt" transform="translate(579,913)"><rect class="b" width="43" height="23"/><text class="f28" x="21.5" y="11.5"><tspan x="21.5" dy="-1.4em">scheda esercizi fornita</tspan><tspan x="21.5" dy="1.4em">dal fisioterapista con</tspan><tspan x="21.5" dy="1.4em">immagini</tspan></text></g>
<g id="j21" class="lt" transform="translate(620,913)"><rect class="b" width="43" height="25"/><text class="f36" x="21.5" y="12.5"><tspan x="21.5" dy="-1.4em">preferisco stare in</tspan><tspan x="21.5" dy="1.4em">mezzo alla natura e</tspan><tspan x="21.5" dy="1.4em">godersi i panorami</tspan></text></g>

<!-- RIGHT EMPATHY MAP -->
<g id="map-right">
<rect class="map" x="1352" y="105" width="1175" height="601"/>
<line class="diag" x1="1352" y1="105" x2="2527" y2="706"/>
<line class="diag" x1="1352" y1="706" x2="2527" y2="105"/>
<text class="lbl" x="1940" y="123">Think and feel?</text>
<text class="lbl" x="1940" y="686">Say and do?</text>
<text class="lbl" transform="translate(1369,406) rotate(-90)">Hear?</text>
<text class="lbl" transform="translate(2509,406) rotate(90)">See?</text>
</g>
<g id="r1" class="st" transform="translate(1853,211)"><rect class="g" width="43" height="25"/><text class="f46" x="21.5" y="12.5"><tspan x="21.5" dy="-1.4em">dovrebbe fare</tspan><tspan x="21.5" dy="1.4em">attività fisica</tspan><tspan x="21.5" dy="1.4em">regolarmente</tspan></text></g>
<g id="r2" class="st" transform="translate(1917,202)"><rect class="g" width="43" height="25"/><text class="f46" x="21.5" y="12.5"><tspan x="21.5" dy="-0.7em">i contatori delle</tspan><tspan x="21.5" dy="1.4em">calorie son fake</tspan></text></g>
<g id="r3" class="st" transform="translate(2008,210)"><rect class="g" width="43" height="25"/><text class="f50" x="21.5" y="12.5"><tspan x="21.5" dy="-0.7em">attività fisica</tspan><tspan x="21.5" dy="1.4em">indispensabile</tspan></text></g>
<g id="r4" class="st" transform="translate(1820,267)"><rect class="g" width="43" height="25"/><text class="f44" x="21.5" y="12.5"><tspan x="21.5" dy="-1.4em">non ho bisogno</tspan><tspan x="21.5" dy="1.4em">di un</tspan><tspan x="21.5" dy="1.4em">contachilometri</tspan></text></g>
<g id="r5" class="st" transform="translate(1923,263)"><rect class="g" width="43" height="25"/><text class="f70" x="21.5" y="12.5"><tspan x="21.5" dy="-0.7em">mi sento</tspan><tspan x="21.5" dy="1.4em">meglio</tspan></text></g>
<g id="r6" class="st" transform="translate(2005,256)"><rect class="g" width="43" height="25"/><text class="f46" x="21.5" y="12.5"><tspan x="21.5" dy="-1.4em">preferisco</tspan><tspan x="21.5" dy="1.4em">esercizio</tspan><tspan x="21.5" dy="1.4em">all'aperto</tspan></text></g>
<g id="r7" class="st" transform="translate(1560,378)"><rect class="g" width="52" height="31"/><text class="f46" x="26" y="15.5"><tspan x="26" dy="-1.4em">altri vanno a fare</tspan><tspan x="26" dy="1.4em">camminate solo per</tspan><tspan x="26" dy="1.4em">guardare le vetrine</tspan></text></g>
<g id="r8" class="st" transform="translate(2139,385)"><rect class="g" width="43" height="25"/><text class="f44" x="21.5" y="12.5"><tspan x="21.5" dy="-1.4em">camminate</tspan><tspan x="21.5" dy="1.4em">all'aperto (4-5</tspan><tspan x="21.5" dy="1.4em">km)</tspan></text></g>
<g id="r9" class="st" transform="translate(2225,372)"><rect class="g" width="43" height="25"/><text class="f34" x="21.5" y="12.5"><tspan x="21.5" dy="-2.1em">cronometro e</tspan><tspan x="21.5" dy="1.4em">contatore calorie della</tspan><tspan x="21.5" dy="1.4em">cyclette (senza</tspan><tspan x="21.5" dy="1.4em">internet)</tspan></text></g>
<g id="r10" class="st" transform="translate(2208,419)"><rect class="g" width="43" height="25"/><text class="f65" x="21.5" y="12.5"><tspan x="21.5" dy="-0.7em">cyclette in</tspan><tspan x="21.5" dy="1.4em">mansarda</tspan></text></g>
<g id="r11" class="st" transform="translate(1886,512)"><rect class="g" width="43" height="25"/><text class="f48" x="21.5" y="12.5"><tspan x="21.5" dy="-0.7em">l'attività in casa</tspan><tspan x="21.5" dy="1.4em">non mi impegna</tspan></text></g>
<g id="r12" class="st" transform="translate(1950,534)"><rect class="g" width="43" height="25"/><text class="f44" x="21.5" y="12.5"><tspan x="21.5" dy="-1.4em">camminate</tspan><tspan x="21.5" dy="1.4em">all'aperto (4-5</tspan><tspan x="21.5" dy="1.4em">km)</tspan></text></g>
<g id="r13" class="st" transform="translate(1725,586)"><rect class="g" width="43" height="25"/><text class="f44" x="21.5" y="12.5"><tspan x="21.5" dy="-1.4em">guardo l'orologio</tspan><tspan x="21.5" dy="1.4em">quando parto e</tspan><tspan x="21.5" dy="1.4em">quando torno</tspan></text></g>
<g id="r14" class="st" transform="translate(1849,586)"><rect class="g" width="43" height="25"/><text class="f46" x="21.5" y="12.5"><tspan x="21.5" dy="-0.7em">andava in</tspan><tspan x="21.5" dy="1.4em">palestra anni fa</tspan></text></g>
<g id="r15" class="st" transform="translate(1950,601)"><rect class="g" width="43" height="25"/><text class="f44" x="21.5" y="12.5"><tspan x="21.5" dy="-1.4em">non usa</tspan><tspan x="21.5" dy="1.4em">applicazioni per</tspan><tspan x="21.5" dy="1.4em">il telefono</tspan></text></g>
<g id="r16" class="st" transform="translate(2059,594)"><rect class="g" width="43" height="25"/><text class="f34" x="21.5" y="12.5"><tspan x="21.5" dy="-2.1em">esercizi in casa,</tspan><tspan x="21.5" dy="1.4em">mezz'ora, 1-2 a</tspan><tspan x="21.5" dy="1.4em">settimana, (a volte)</tspan><tspan x="21.5" dy="1.4em">systema</tspan></text></g>

<!-- RIGHT PAIN / GAIN / JOB -->
<g id="pain-right">
<rect x="1352" y="723" width="578" height="137" fill="#4475fd" stroke="#6a92fc" stroke-width="1"/>
<text class="sec" x="1359" y="747" fill="#fff">Pain</text>
</g>
<g id="rp1" class="lt" transform="translate(1359,762)"><rect class="g" width="44" height="25"/><text class="f65" x="22" y="12.5"><tspan x="22" dy="-0.7em">molta</tspan><tspan x="22" dy="1.4em">confusione</tspan></text></g>
<g id="rp2" class="lt" transform="translate(1427,762)"><rect class="g" width="44" height="25"/><text class="f65" x="22" y="12.5"><tspan x="22" dy="-0.7em">orari</tspan><tspan x="22" dy="1.4em">palestra</tspan></text></g>
<g id="rp3" class="lt" transform="translate(1499,762)"><rect class="g" width="44" height="25"/><text class="f46" x="22" y="12.5"><tspan x="22" dy="-1.4em">eccesso di</tspan><tspan x="22" dy="1.4em">utilizzo della</tspan><tspan x="22" dy="1.4em">tecnologia</tspan></text></g>
<g id="gain-right">
<rect x="1949" y="723" width="578" height="137" fill="#c1d1f0" stroke="#d8e1f4" stroke-width="1"/>
<text class="sec" x="1958" y="746" fill="#2a2a2a">Gain</text>
</g>
<g id="rg1" class="lt" transform="translate(1969,761)"><rect class="g" width="44" height="25"/><text class="f34" x="22" y="12.5"><tspan x="22" dy="-1.4em">fare attività all'aperto</tspan><tspan x="22" dy="1.4em">migliore con</tspan><tspan x="22" dy="1.4em">temperature migliori</tspan></text></g>
<g id="rg2" class="lt" transform="translate(2025,761)"><rect class="g" width="44" height="25"/><text class="f46" x="22" y="12.5"><tspan x="22" dy="-1.4em">fare esercizio da</tspan><tspan x="22" dy="1.4em">solo senza</tspan><tspan x="22" dy="1.4em">distrazione</tspan></text></g>
<g id="rg3" class="lt" transform="translate(2084,761)"><rect class="g" width="44" height="25"/><text class="f46" x="22" y="12.5"><tspan x="22" dy="-1.4em">avere</tspan><tspan x="22" dy="1.4em">programmi</tspan><tspan x="22" dy="1.4em">diversi</tspan></text></g>
<g id="job-right">
<rect x="1352" y="879" width="1175" height="171" fill="#e2c95a" stroke="#ecd98e" stroke-width="1"/>
<text class="job" x="1380" y="916">Job to be done</text>
</g>
<g id="rj1" class="lt" transform="translate(1383,936)"><rect class="g" width="44" height="25"/><text class="f44" x="22" y="12.5"><tspan x="22" dy="-1.4em">ho bisogno di</tspan><tspan x="22" dy="1.4em">fare esercizio per</tspan><tspan x="22" dy="1.4em">la mia salute</tspan></text></g>
<g id="rj2" class="lt" transform="translate(1451,936)"><rect class="g" width="44" height="25"/><text class="f60" x="22" y="12.5"><tspan x="22" dy="-0.7em">fare esercizio</tspan><tspan x="22" dy="1.4em">regolarmente</tspan></text></g>

<g id="connectors"/>
</svg>
